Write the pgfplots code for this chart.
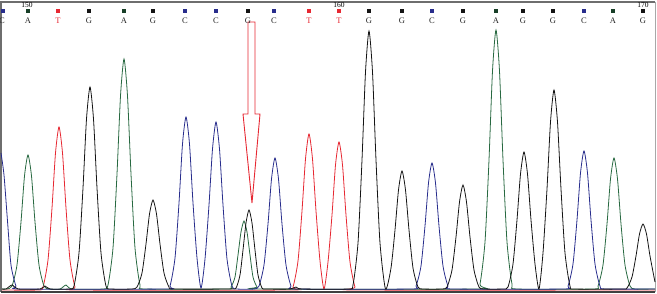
\documentclass[border=0pt]{standalone}
\usepackage{pgfplots}
\pgfplotsset{compat=1.18}
\usepackage{fontspec}
\setmainfont{Liberation Serif}
\definecolor{cA}{RGB}{40,105,65}
\definecolor{cC}{RGB}{40,45,140}
\definecolor{cG}{RGB}{20,20,20}
\definecolor{cT}{RGB}{230,40,50}
\definecolor{frame}{RGB}{110,110,110}
\tikzset{lab/.style={font=\fontsize{8.5}{9}\selectfont, inner sep=0pt, text=black!85},
  num/.style={font=\fontsize{7.5}{8}\selectfont, inner sep=0pt},
  sq/.style={inner sep=0pt, minimum size=3.2pt, fill}}
\begin{document}%
\begin{tikzpicture}%
\begin{axis}[scale only axis, width=657pt, height=294pt,
  xmin=0, xmax=657, ymin=0, ymax=294, y dir=reverse,
  hide axis, clip=false]
% frame
\draw[frame, line width=1.5pt] (axis cs:1,292) -- (axis cs:1,2) -- (axis cs:655,2);
\draw[frame!60, line width=0.8pt] (axis cs:655,2) -- (axis cs:655,292);
\draw[black!75, line width=1.6pt] (axis cs:1,292) -- (axis cs:655,292);
% red trace (T)
\addplot[cT, line width=0.8pt, smooth, tension=0.4] coordinates {
(2,290)(38,290)(43,287)(48,260)(52,208)(55.5,153)(59,127)(62.5,153)(66,208)(70,260)(75,287)(80,290)
(288,290)(293,287)(298,261)(302,211)(305.5,159)(309,134)(312.5,159)(316,211)(320,261)(324,289)
(328,262)(332,215)(335.5,165)(339,142)(342.5,165)(346,215)(350,262)(355,287)(360,290)(655,290)};
% green trace (A)
\addplot[cA, line width=0.8pt, smooth, tension=0.4] coordinates {
(2,289)(7,289)(12,286)(17,265)(21,222)(24.5,176)(28,155)(31.5,176)(35,222)(39,265)(44,286)(49,289)
(60,289)(66,285)(72,289)
(103,289)(108,285)(113,248)(117,174)(120.5,96)(124,59)(127.5,96)(131,174)(135,248)(140,285)(145,289)
(227,289)(231,287)(235,277)(238,255)(241,232)(244,221)(247,232)(250,255)(253,277)(257,287)(261,289)
(475,289)(480,284)(485,242)(489,160)(492.5,71)(496,30)(499.5,71)(503,160)(507,242)(512,284)(517,289)
(593,289)(598,286)(603,265)(607,224)(610.5,179)(614,158)(617.5,179)(621,224)(625,265)(630,286)(635,289)(655,289)};
% blue trace (C)
\addplot[cC, line width=0.8pt, smooth, tension=0.4] coordinates {
(1,153)(4,175)(7.5,221)(11,265)(16,286)(21,289)
(165,289)(170,286)(175,258)(179,203)(182.5,144)(186,117)(189.5,144)(193,203)(197,258)(201,288)
(205,259)(209,205)(212.5,149)(216,122)(219.5,149)(223,205)(227,259)(232,286)(237,289)
(254,289)(259,286)(264,265)(268,224)(271.5,179)(275,158)(278.5,179)(282,224)(286,265)(291,286)(296,289)
(411,289)(416,286)(421,266)(425,226)(428.5,183)(432,163)(435.5,183)(439,226)(443,266)(448,286)(453,289)
(563,289)(568,286)(573,264)(577,220)(580.5,173)(584,151)(587.5,173)(591,220)(595,264)(600,286)(605,289)(655,289)};
% black trace (G)
\addplot[cG, line width=0.8pt, smooth, tension=0.4] coordinates {
(2,289)(6,289)(12,285)(18,289)(40,289)(45,286)(50,289)
(69,289)(74,286)(79,253)(83,188)(86.5,119)(90,87)(93.5,119)(97,188)(101,253)(106,286)(111,289)
(132,289)(137,287)(142,273)(146,244)(149.5,214)(153,200)(156.5,214)(160,244)(164,273)(169,287)(174,289)
(230,289)(236,288)(240,275)(243,250)(246,223)(249,210)(252,223)(255,250)(258,275)(262,288)(266,289)
(290,289)(296,287)(302,289)
(348,289)(353,285)(358,243)(362,160)(365.5,72)(369,31)(372.5,72)(376,160)(380,243)(385.5,289)
(391,268)(395,230)(398.5,190)(402,171)(405.5,190)(409,230)(413,268)(418,287)(423,289)
(442,289)(447,287)(452,270)(456,237)(459.5,202)(463,185)(466.5,202)(470,237)(474,270)(479,287)(484,289)
(503,289)(508,287)(513,264)(517,220)(520.5,174)(524,152)(527.5,174)(531,220)(535,264)(539,289)
(543,253)(547,189)(550.5,122)(554,90)(557.5,122)(561,189)(565,253)(570,286)(575,289)
(622,289)(627,288)(632,277)(636,256)(639.5,234)(643,224)(646.5,234)(650,256)(654,277)(655,282)};
% red arrow
\draw[cT, line width=0.9pt] (axis cs:248,22) -- (axis cs:248,114) -- (axis cs:243,114)
  -- (axis cs:252,203) -- (axis cs:260,114) -- (axis cs:255,114) -- (axis cs:255,22) -- cycle;
% base call squares
\node[sq, cC] at (axis cs:3,11) {};
\node[sq, cA!60!black] at (axis cs:28,11) {};
\node[sq, cT] at (axis cs:58,11) {};
\node[sq, cG] at (axis cs:89,11) {};
\node[sq, cA!60!black] at (axis cs:124,11) {};
\node[sq, cG] at (axis cs:153,11) {};
\node[sq, cC] at (axis cs:185,11) {};
\node[sq, cC] at (axis cs:216,11) {};
\node[sq, cG] at (axis cs:248,11) {};
\node[sq, cC] at (axis cs:274,11) {};
\node[sq, cT] at (axis cs:309,11) {};
\node[sq, cT] at (axis cs:339,11) {};
\node[sq, cG] at (axis cs:369,11) {};
\node[sq, cG] at (axis cs:402,11) {};
\node[sq, cC] at (axis cs:432,11) {};
\node[sq, cG] at (axis cs:463,11) {};
\node[sq, cA!60!black] at (axis cs:496,11) {};
\node[sq, cG] at (axis cs:523,11) {};
\node[sq, cG] at (axis cs:553,11) {};
\node[sq, cC] at (axis cs:584,11) {};
\node[sq, cA!60!black] at (axis cs:613,11) {};
\node[sq, cG] at (axis cs:643,11) {};
% base call letters
\node[lab] at (axis cs:2,20.5) {C};
\node[lab] at (axis cs:28,20.5) {A};
\node[lab, text=cT] at (axis cs:58,20.5) {T};
\node[lab] at (axis cs:89,20.5) {G};
\node[lab] at (axis cs:124,20.5) {A};
\node[lab] at (axis cs:153,20.5) {G};
\node[lab] at (axis cs:185,20.5) {C};
\node[lab] at (axis cs:216,20.5) {C};
\node[lab] at (axis cs:248,20.5) {G};
\node[lab] at (axis cs:274,20.5) {C};
\node[lab, text=cT] at (axis cs:309,20.5) {T};
\node[lab, text=cT] at (axis cs:339,20.5) {T};
\node[lab] at (axis cs:369,20.5) {G};
\node[lab] at (axis cs:402,20.5) {G};
\node[lab] at (axis cs:432,20.5) {C};
\node[lab] at (axis cs:463,20.5) {G};
\node[lab] at (axis cs:496,20.5) {A};
\node[lab] at (axis cs:523,20.5) {G};
\node[lab] at (axis cs:553,20.5) {G};
\node[lab] at (axis cs:584,20.5) {C};
\node[lab] at (axis cs:613,20.5) {A};
\node[lab] at (axis cs:643,20.5) {G};
\node[num] at (axis cs:27,5) {150};
\node[num] at (axis cs:339,5) {160};
\node[num] at (axis cs:643,5) {170};
\end{axis}
\pgfresetboundingbox
\path (current axis.south west) rectangle (current axis.north east);
\end{tikzpicture}%
\end{document}
